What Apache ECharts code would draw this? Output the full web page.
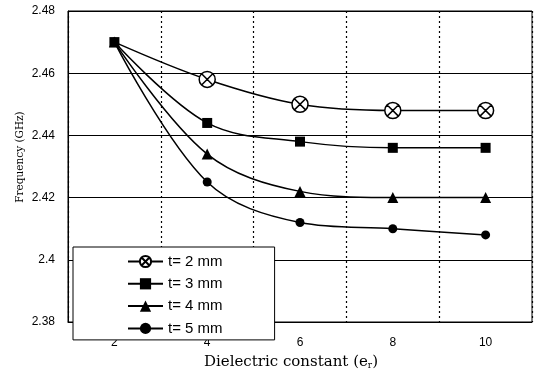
<!DOCTYPE html>
<html><head><meta charset="utf-8">
<script src="https://cdn.jsdelivr.net/npm/echarts@6/dist/echarts.min.js"></script>
<style>html,body{margin:0;padding:0;background:#fff}#c{width:539px;height:378px}</style>
</head><body><div id="c"></div>
<script>
const categories = ['2', '4', '6', '8', '10'];
const seriesNames = ['t= 2 mm', 't= 3 mm', 't= 4 mm', 't= 5 mm'];
const t2 = [2.470, 2.458, 2.450, 2.448, 2.448];
const t3 = [2.470, 2.444, 2.438, 2.436, 2.436];
const t4 = [2.470, 2.434, 2.422, 2.420, 2.420];
const t5 = [2.470, 2.425, 2.412, 2.410, 2.408];
const yTicks = ['2.38', '2.4', '2.42', '2.44', '2.46', '2.48'];
const xTitle = ['Dielectric constant (e', 'r', ')'];
const yTitle = 'Frequency (GHz)';

const circleX = 'path://M0,10A10,10 0 1,1 20,10A10,10 0 1,1 0,10ZM3,3L17,17M17,3L3,17';
const chart = echarts.init(document.getElementById('c'));
const mk = (name, data, symbol, size, z, hideFirst) => ({
  name, type: 'line', smooth: 0.35, z,
  data: data.map((v, i) => (hideFirst && i === 0) ? {value: v, symbol: 'none'} : v),
  symbol, symbolSize: size, showSymbol: true,
  lineStyle: {color: '#000', width: 1.5},
  itemStyle: symbol === circleX ? {color: '#fff', borderColor: '#000', borderWidth: 1.5} : {color: '#000'},
  emphasis: {disabled: true}
});
chart.setOption({
  animation: false,
  grid: {left: 68, right: 7, top: 11, bottom: 56, show: true, borderColor: '#000', borderWidth: 1},
  legend: {
    orient: 'vertical', left: 73, top: 247, z: 10,
    backgroundColor: '#fff', borderColor: '#000', borderWidth: 1,
    padding: [7, 52, 4, 54], itemWidth: 35, itemHeight: 14, itemGap: 7.3,
    textStyle: {fontFamily: 'Liberation Sans', fontSize: 15, color: '#000'},
    data: seriesNames
  },
  graphic: [
    {type: 'text', x: 291, y: 362, style: {
      rich: {
        a: {fontFamily: 'DejaVu Serif', fontSize: 15, fill: '#000'},
        s: {fontFamily: 'DejaVu Serif', fontSize: 9, fill: '#000', padding: [8, 0, 0, 0]}
      },
      text: '{a|' + xTitle[0] + '}{s|' + xTitle[1] + '}{a|' + xTitle[2] + '}',
      align: 'center', verticalAlign: 'middle'
    }},
    {type: 'text', rotation: Math.PI / 2, x: 20, y: 157, style: {
      text: yTitle, fontFamily: 'DejaVu Serif', fontSize: 10.5, fill: '#000',
      align: 'center', verticalAlign: 'middle'
    }}
  ],
  xAxis: {
    type: 'category', data: categories, boundaryGap: true,
    axisLine: {show: true, lineStyle: {color: '#000'}}, axisTick: {show: false},
    axisLabel: {color: '#000', fontFamily: 'Liberation Sans', fontSize: 12, margin: 15},
    splitLine: {show: true, interval: 0, lineStyle: {color: '#000', type: [2, 3], width: 1.2}}
  },
  yAxis: {
    type: 'value', min: 2.38, max: 2.48, interval: 0.02,
    axisLine: {show: true, lineStyle: {color: '#000'}}, axisTick: {show: false},
    axisLabel: {color: '#000', fontFamily: 'Liberation Sans', fontSize: 12, margin: 13,
      formatter: v => yTicks[Math.round((v - 2.38) / 0.02)]},
    splitLine: {show: true, lineStyle: {color: '#000', width: 1}}
  },
  series: [
    mk(seriesNames[0], t2, circleX, 16, 3, true),
    mk(seriesNames[1], t3, 'rect', 10, 6, false),
    mk(seriesNames[2], t4, 'triangle', 11, 4, false),
    mk(seriesNames[3], t5, 'circle', 9, 5, false)
  ]
});
</script></body></html>
